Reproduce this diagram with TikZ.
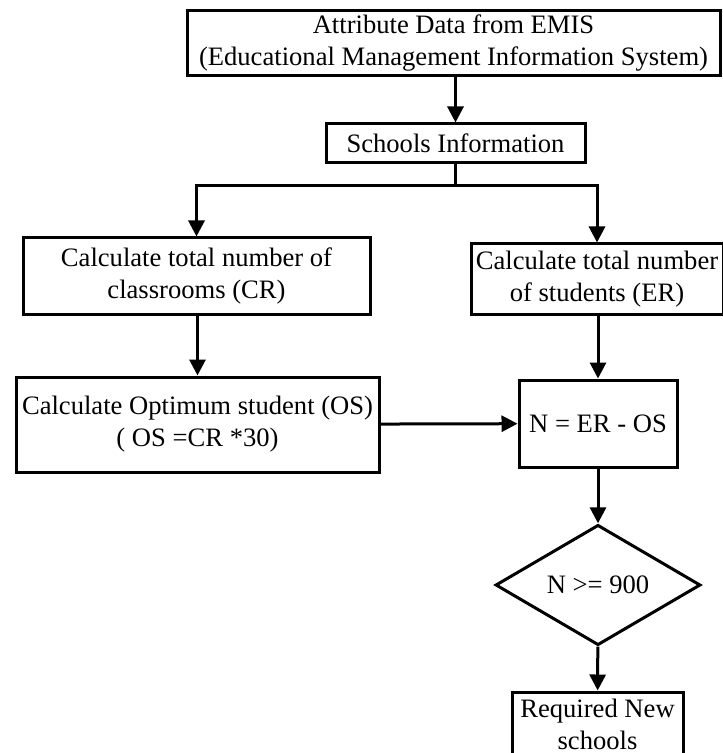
\documentclass[tikz,border=0pt]{standalone}
\usepackage{fontspec}
\setmainfont{Liberation Serif}
\usepackage{tikz}
\usetikzlibrary{arrows.meta,shapes.geometric}

\begin{document}
\begin{tikzpicture}[x=0.5pt,y=-0.5pt,
    box/.style={draw,line width=1.5pt,align=center,inner sep=2pt,
      font=\fontsize{13.3}{16}\selectfont},
    decision/.style={box,diamond,inner sep=0pt},
    flow/.style={line width=1.5pt,-{Triangle[length=8pt,width=8pt]}}]
  \useasboundingbox (0,0) rectangle (722,753);
  % Boxes
  \node[box,minimum width=266.5pt,minimum height=31pt] (emis) at (453.5,43)
    {Attribute Data from EMIS\\(Educational Management Information System)};
  \node[box,minimum width=129.5pt,minimum height=19.5pt] (info) at (455.5,143.5) {Schools Information};
  \node[box,minimum width=173.5pt,minimum height=38pt] (cr) at (196.5,276)
    {Calculate total number of\\classrooms (CR)};
  \node[box,minimum width=126pt,minimum height=35pt] (er) at (597,279)
    {Calculate total number\\of students (ER)};
  \node[box,minimum width=181.5pt,minimum height=47.5pt] (os) at (197.5,424.5)
    {Calculate Optimum student (OS)\\( OS =CR *30)};
  \node[box,minimum width=79pt,minimum height=43.5pt] (n) at (598,423.5) {N = ER - OS};
  \node[decision,minimum width=102.5pt,minimum height=44pt] (dec) at (598,585) {N >= 900};
  \node[box,minimum width=85.5pt,minimum height=32pt] (req) at (597.5,724)
    {Required New\\schools};
  % Connectors
  \coordinate (fork) at (455.5,186);
  \draw[flow] (emis.south -| info.north) -- (info);
  \draw[line width=1.5pt] (info) -- (fork);
  \draw[flow] (fork) -| (cr);
  \draw[flow] (fork) -| (er);
  \draw[flow] (cr.south -| os.north) -- (os);
  \draw[flow] (er.south -| n.north) -- (n);
  \draw[flow] (os) -- (n);
  \draw[flow] (n) -- (dec);
  \draw[flow] (dec) -- (req);
\end{tikzpicture}
\end{document}
